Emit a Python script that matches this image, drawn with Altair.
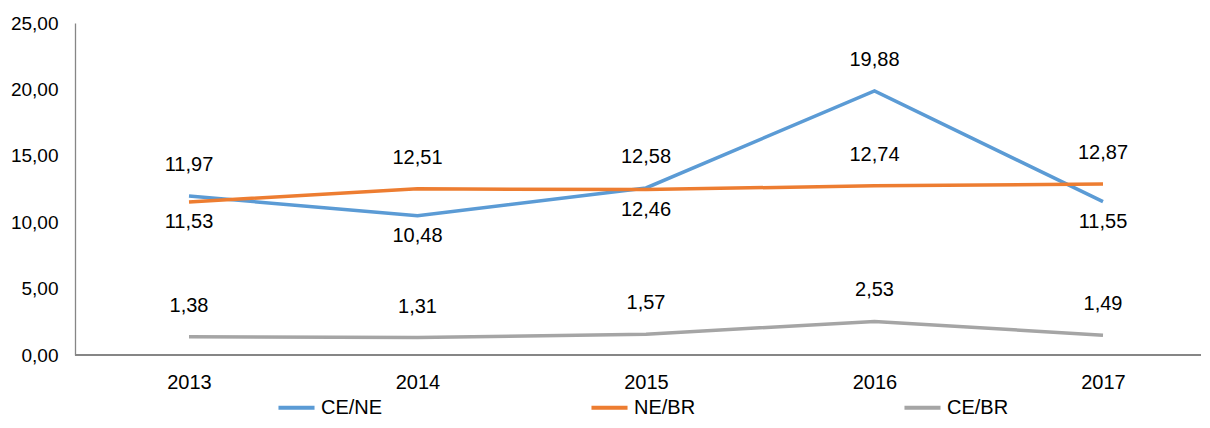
import altair as alt
import pandas as pd

years = ["2013", "2014", "2015", "2016", "2017"]
series_names = ["CE/NE", "NE/BR", "CE/BR"]
ce_ne = [11.97, 10.48, 12.58, 19.88, 11.55]
ne_br = [11.53, 12.51, 12.46, 12.74, 12.87]
ce_br = [1.38, 1.31, 1.57, 2.53, 1.49]
label_pos = {
    "CE/NE": ["above", "below", "above", "above", "below"],
    "NE/BR": ["below", "above", "below", "above", "above"],
    "CE/BR": ["above", "above", "above", "above", "above"],
}
colors = ["#5B9BD5", "#ED7D31", "#A5A5A5"]

rows = []
for name, vals in zip(series_names, [ce_ne, ne_br, ce_br]):
    for i, (y, v) in enumerate(zip(years, vals)):
        rows.append({"year": y, "series": name, "value": v, "pos": label_pos[name][i]})
df = pd.DataFrame(rows)

FONT = "Liberation Sans, Arial"
FS = 20
W = 1126

x_enc = alt.X("year:O", scale=alt.Scale(type="point", range=[114, 1028], padding=0),
              axis=alt.Axis(title=None, domain=False, ticks=False, labelAngle=0,
                            labelPadding=17, labelFont=FONT, labelFontSize=FS,
                            labelColor="#000000", grid=False))
y_enc = alt.Y("value:Q", scale=alt.Scale(domain=[0, 25], nice=False),
              axis=alt.Axis(title=None, values=[0, 5, 10, 15, 20, 25], ticks=False,
                            grid=False, domainColor="#868686", domainWidth=1.3,
                            labelPadding=17, labelFont=FONT, labelFontSize=19,
                            labelColor="#000000",
                            labelExpr="replace(format(datum.value, '.2f'), '.', ',')"))

base = alt.Chart(df)

lines = base.mark_line(strokeWidth=3.5).encode(
    x=x_enc, y=y_enc,
    color=alt.Color("series:N", scale=alt.Scale(domain=series_names, range=colors),
                    legend=alt.Legend(title=None, orient="none", legendX=201, legendY=364,
                                      direction="horizontal", symbolType="stroke",
                                      symbolSize=1300, symbolStrokeWidth=4,
                                      columnPadding=200, labelFont=FONT,
                                      labelFontSize=FS, labelColor="#000000",
                                      labelOffset=4)),
)

zero_rule = base.mark_rule(color="#868686", strokeWidth=1.3).encode(
    y=alt.datum(0), x=alt.value(0), x2=alt.value(W)
)

lab_text = "replace(format(datum.value, '.2f'), '.', ',')"
above = base.transform_filter("datum.pos == 'above'").transform_calculate(
    lab=lab_text).mark_text(dy=-31, font=FONT, fontSize=FS, color="#000000",
                            baseline="middle").encode(x="year:O", y="value:Q", text="lab:N")
below = base.transform_filter("datum.pos == 'below'").transform_calculate(
    lab=lab_text).mark_text(dy=20, font=FONT, fontSize=FS, color="#000000",
                            baseline="middle").encode(x="year:O", y="value:Q", text="lab:N")

chart = alt.layer(zero_rule, lines, above, below).properties(
    width=W, height=332,
    padding={"left": 67, "top": 15, "right": 0, "bottom": 65},
    autosize=alt.AutoSizeParams(type="none"),
).configure_view(stroke=None)

chart.save("out.html", embed_options={"renderer": "svg", "actions": False})
